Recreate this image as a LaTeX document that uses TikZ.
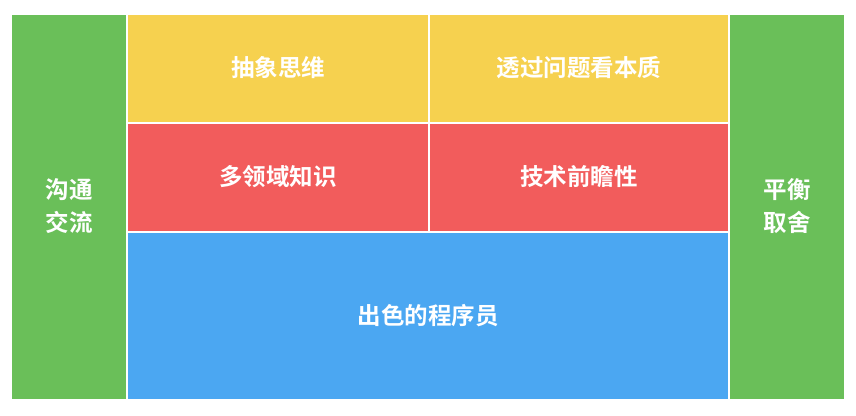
\documentclass[tikz,border=0pt]{standalone}
\usepackage{fontspec}
\newfontfamily\cjk{Noto Sans CJK SC Bold}
\definecolor{cgreen}{HTML}{6ABF59}
\definecolor{cyellow}{HTML}{F6D14F}
\definecolor{cred}{HTML}{F25C5C}
\definecolor{cblue}{HTML}{4BA7F2}
\begin{document}
\begin{tikzpicture}[x=1pt,y=-1pt,
  cell/.style={inner sep=0pt,outer sep=0pt,text=white,font=\cjk\fontsize{23.5}{33}\selectfont,align=center}]
\useasboundingbox (0,0) rectangle (856,415);
\fill[cgreen] (12,15) rectangle (126,399);
\fill[cyellow] (128,15) rectangle (428,122);
\fill[cyellow] (430,15) rectangle (728,122);
\fill[cred] (128,124) rectangle (428,231);
\fill[cred] (430,124) rectangle (728,231);
\fill[cblue] (128,233) rectangle (728,399);
\fill[cgreen] (730,15) rectangle (844,399);
\node[cell] (l) at (69,206) {沟通\\交流};
\node[cell] (a) at (278,68) {抽象思维};
\node[cell] (b) at (579,68) {透过问题看本质};
\node[cell] (c) at (278,177) {多领域知识};
\node[cell] (d) at (579,177) {技术前瞻性};
\node[cell] (e) at (428,316) {出色的程序员};
\node[cell] (r) at (787,206) {平衡\\取舍};
\end{tikzpicture}
\end{document}
